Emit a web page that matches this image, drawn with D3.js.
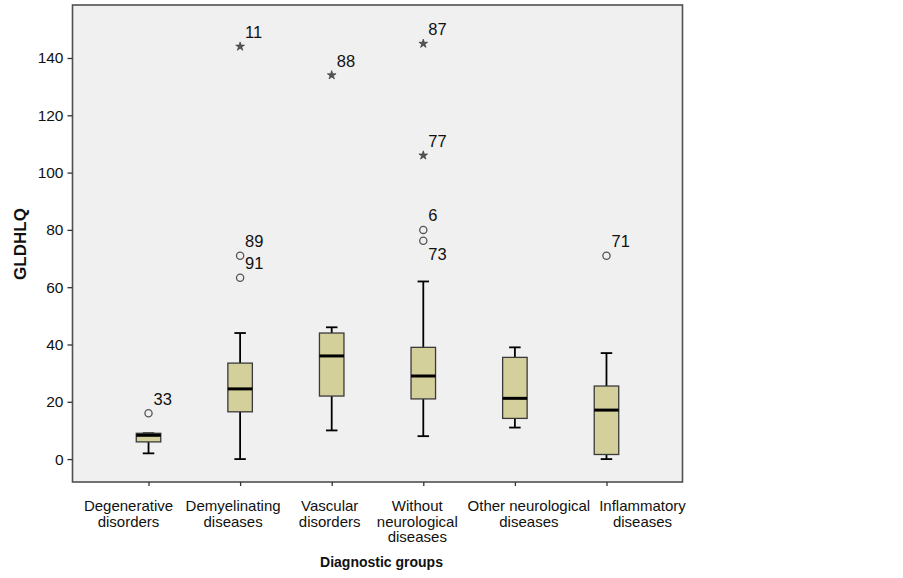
<!DOCTYPE html>
<html>
<head>
<meta charset="utf-8">
<script src="https://cdn.jsdelivr.net/npm/d3@7/dist/d3.min.js"></script>
<style>
  html, body { margin: 0; padding: 0; background: #fff; }
  svg { display: block; }
  text { font-family: 'Liberation Sans', Arial, sans-serif; }
</style>
</head>
<body>
<svg id="chart" width="903" height="578"></svg>
<script>
// ---- Data ----
const categories = ["Degenerative disorders", "Demyelinating diseases", "Vascular disorders",
  "Without neurological diseases", "Other neurological diseases", "Inflammatory diseases"];
const categoryLines = [["Degenerative", "disorders"], ["Demyelinating", "diseases"], ["Vascular", "disorders"],
  ["Without", "neurological", "diseases"], ["Other neurological", "diseases"], ["Inflammatory", "diseases"]];
const whiskerLow  = [2,   0,    10,   8,    11,   0];
const q1          = [6,   16.5, 22,   21,   14.2, 1.6];
const median      = [8.3, 24.5, 36,   29,   21.2, 17.1];
const q3          = [9,   33.5, 44,   39,   35.5, 25.5];
const whiskerHigh = [9,   44,   46,   62,   39,   37];
// outliers: group index, case id, value, kind ("o" = outlier, "*" = extreme)
const outlierGroup = [0, 1, 1, 1, 2, 3, 3, 3, 3, 5];
const outlierId    = ["33", "89", "91", "11", "88", "6", "73", "77", "87", "71"];
const outlierValue = [16, 71, 63.3, 144, 134, 80, 76.2, 106, 145, 71];
const outlierKind  = ["o", "o", "o", "*", "*", "o", "o", "*", "*", "o"];
const yTicks = [0, 20, 40, 60, 80, 100, 120, 140];
const yLabel = "GLDHLQ";
const xLabel = "Diagnostic groups";

// ---- Layout ----
const svg = d3.select("#chart");
const pLeft = 72.5, pRight = 682.5, pTop = 5, pBottom = 482;
// horizontal nudges of category labels so neighbouring labels do not collide
const labelNudge = [-20, -7, -2, -6, 14, 36];

const x = d3.scalePoint().domain(categories).range([pLeft, pRight]).padding(0.83);
const y = d3.scaleLinear().domain([-8, 158.5]).range([pBottom, pTop]);

// plot background & frame
svg.append("rect").attr("x", pLeft).attr("y", pTop).attr("width", pRight - pLeft).attr("height", pBottom - pTop)
  .attr("fill", "#f0f0f0").attr("stroke", "#505050").attr("stroke-width", 1.6);

// Y axis
const yAxis = svg.append("g").attr("transform", `translate(${pLeft},0)`)
  .call(d3.axisLeft(y).tickValues(yTicks).tickSize(5).tickPadding(4).tickFormat(d3.format("d")));
yAxis.select(".domain").remove();
yAxis.selectAll(".tick line").attr("stroke", "#333").attr("stroke-width", 1.3);
yAxis.selectAll(".tick text").attr("font-family", "'Liberation Sans', Arial, sans-serif")
  .attr("font-size", 15.5).attr("fill", "#111");

// X axis ticks
const xAxis = svg.append("g").attr("transform", `translate(0,${pBottom})`)
  .call(d3.axisBottom(x).tickSize(4).tickFormat(""));
xAxis.select(".domain").remove();
xAxis.selectAll(".tick line").attr("stroke", "#333").attr("stroke-width", 1.3);

// X category labels (multi-line)
categories.forEach((c, i) => {
  const lx = x(c) + labelNudge[i];
  const t = svg.append("text").attr("x", lx).attr("y", 511)
    .attr("text-anchor", "middle").attr("font-family", "'Liberation Sans', Arial, sans-serif")
    .attr("font-size", 15).attr("fill", "#111");
  categoryLines[i].forEach((ln, j) => {
    t.append("tspan").attr("x", lx).attr("dy", j === 0 ? 0 : 15.5).text(ln);
  });
});

// Axis titles
svg.append("text").attr("x", 381.5).attr("y", 567).attr("text-anchor", "middle")
  .attr("font-family", "'Open Sans', 'Noto Sans', sans-serif").attr("font-weight", "bold")
  .attr("font-size", 14).attr("fill", "#111").text(xLabel);
svg.append("text").attr("transform", "translate(26,244) rotate(-90)").attr("text-anchor", "middle")
  .attr("font-family", "'Liberation Sans', Arial, sans-serif").attr("font-weight", "bold")
  .attr("font-size", 17).attr("fill", "#111").text(yLabel);

// Boxes
const boxW = 24.5, capW = 11.5;
const g = svg.append("g");
categories.forEach((c, i) => {
  const cx = x(c);
  g.append("line").attr("x1", cx).attr("x2", cx).attr("y1", y(whiskerLow[i])).attr("y2", y(q1[i]))
    .attr("stroke", "#000").attr("stroke-width", 1.8);
  g.append("line").attr("x1", cx).attr("x2", cx).attr("y1", y(whiskerHigh[i])).attr("y2", y(q3[i]))
    .attr("stroke", "#000").attr("stroke-width", 1.8);
  [whiskerLow[i], whiskerHigh[i]].forEach(v => {
    g.append("line").attr("x1", cx - capW / 2).attr("x2", cx + capW / 2).attr("y1", y(v)).attr("y2", y(v))
      .attr("stroke", "#000").attr("stroke-width", 1.8);
  });
  g.append("rect").attr("x", cx - boxW / 2).attr("width", boxW)
    .attr("y", y(q3[i])).attr("height", y(q1[i]) - y(q3[i]))
    .attr("fill", "#d4d09b").attr("stroke", "#3a3a3a").attr("stroke-width", 1.3);
  g.append("line").attr("x1", cx - boxW / 2).attr("x2", cx + boxW / 2)
    .attr("y1", y(median[i])).attr("y2", y(median[i])).attr("stroke", "#000").attr("stroke-width", 3);
});

// Outliers
outlierValue.forEach((v, k) => {
  const cx = x(categories[outlierGroup[k]]);
  const cy = y(v);
  if (outlierKind[k] === "o") {
    g.append("circle").attr("cx", cx).attr("cy", cy).attr("r", 3.6)
      .attr("fill", "none").attr("stroke", "#555").attr("stroke-width", 1.3);
  } else {
    g.append("path").attr("d", d3.symbol().type(d3.symbolStar).size(24)())
      .attr("transform", `translate(${cx},${cy})`)
      .attr("fill", "#555").attr("stroke", "#333").attr("stroke-width", 0.6);
  }
  const crowded = outlierValue.some((w, m) => m !== k && outlierGroup[m] === outlierGroup[k]
    && w > v && (y(v) - y(w)) < 14);
  svg.append("text").attr("x", cx + 5).attr("y", crowded ? cy + 19 : cy - 8.5)
    .attr("font-family", "'Liberation Sans', Arial, sans-serif").attr("font-size", 16.5)
    .attr("fill", "#111").text(outlierId[k]);
});
</script>
</body>
</html>
